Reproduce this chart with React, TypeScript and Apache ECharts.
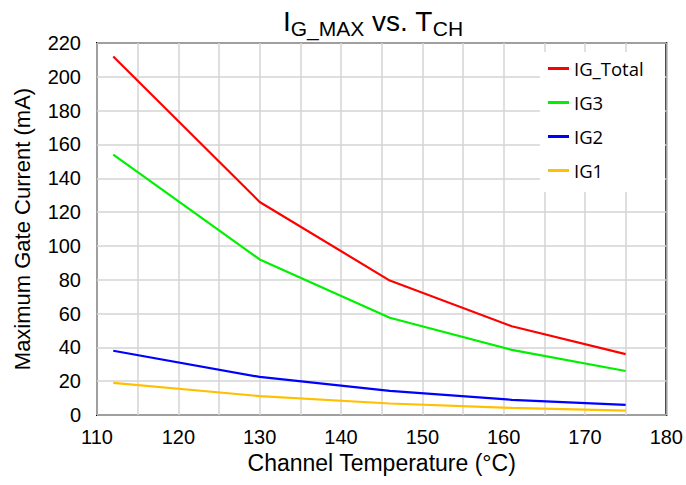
import React, { useEffect, useRef } from "react";
import * as echarts from "echarts";

const temps = [112, 130, 146, 161, 175];
const igTotal = [212, 126, 79.5, 52.5, 36];
const ig3 = [154, 92, 57.5, 38.5, 26];
const ig2 = [38, 22.5, 14.3, 9, 6];
const ig1 = [19, 11.2, 6.8, 4.2, 2.6];
const seriesNames = ["IG_Total", "IG3", "IG2", "IG1"];
const seriesColors = ["#ff0000", "#00f000", "#0000ff", "#ffc000"];

const FONT = "Liberation Sans, Arial, sans-serif";

export default function App() {
  const ref = useRef<HTMLDivElement>(null);
  useEffect(() => {
    if (!ref.current) return;
    const chart = echarts.init(ref.current, null, { renderer: "svg" });
    const values = [igTotal, ig3, ig2, ig1];
    chart.setOption({
      animation: false,
      backgroundColor: "#ffffff",
      title: {
        text: "{m|I}{s|G_MAX}{m| vs. T}{s|CH}",
        left: 283,
        top: 3,
        padding: 0,
        textStyle: {
          fontWeight: "normal",
          rich: {
            m: { fontFamily: FONT, fontSize: 28, fontWeight: "normal", color: "#000", lineHeight: 36 },
            s: { fontFamily: FONT, fontSize: 21, fontWeight: "normal", color: "#000", lineHeight: 21, padding: [15, 0, 0, 0] },
          },
        },
      },
      grid: {
        left: 97,
        top: 43,
        right: 18,
        bottom: 70,
        show: true,
        borderColor: "#000",
        borderWidth: 2,
        backgroundColor: "transparent",
      },
      legend: {
        orient: "vertical",
        left: 548,
        top: 58,
        padding: 0,
        itemGap: 13,
        itemWidth: 21,
        itemHeight: 3,
        icon: "rect",
        data: seriesNames,
        textStyle: { fontFamily: "Open Sans, sans-serif", fontSize: 18.5, color: "#000", lineHeight: 21 },
      },
      graphic: [
        {
          type: "rect",
          z: 1,
          shape: { x: 540, y: 52, width: 125, height: 140 },
          style: { fill: "#ffffff" },
          silent: true,
        },
      ],
      xAxis: {
        type: "value",
        min: 110,
        max: 180,
        interval: 10,
        name: "Channel Temperature (°C)",
        nameLocation: "middle",
        nameGap: 36,
        nameTextStyle: { fontFamily: FONT, fontSize: 23, color: "#000" },
        axisLine: { show: false },
        axisTick: { show: false },
        axisLabel: { fontFamily: FONT, fontSize: 20, color: "#000", margin: 12 },
        splitLine: { show: true, lineStyle: { color: "#d4d4d4", width: 1.5 } },
        minorTick: { show: false, splitNumber: 2 },
        minorSplitLine: { show: true, lineStyle: { color: "#d4d4d4", width: 1.5 } },
      },
      yAxis: {
        type: "value",
        min: 0,
        max: 220,
        interval: 20,
        name: "Maximum Gate Current (mA)",
        nameLocation: "middle",
        nameGap: 64,
        nameTextStyle: { fontFamily: FONT, fontSize: 22, color: "#000" },
        axisLine: { show: false },
        axisTick: { show: false },
        axisLabel: { fontFamily: FONT, fontSize: 20, color: "#000", margin: 16 },
        splitLine: { show: true, lineStyle: { color: "#d4d4d4", width: 1.5 } },
      },
      series: seriesNames.map((name, i) => ({
        name,
        type: "line",
        data: temps.map((t, j) => [t, values[i][j]]),
        showSymbol: false,
        symbol: "none",
        color: seriesColors[i],
        lineStyle: { color: seriesColors[i], width: 2.2 },
        z: 3,
      })),
    });
    return () => chart.dispose();
  }, []);
  return <div ref={ref} style={{ width: 686, height: 485, position: "absolute", left: 0, top: 0 }} />;
}
